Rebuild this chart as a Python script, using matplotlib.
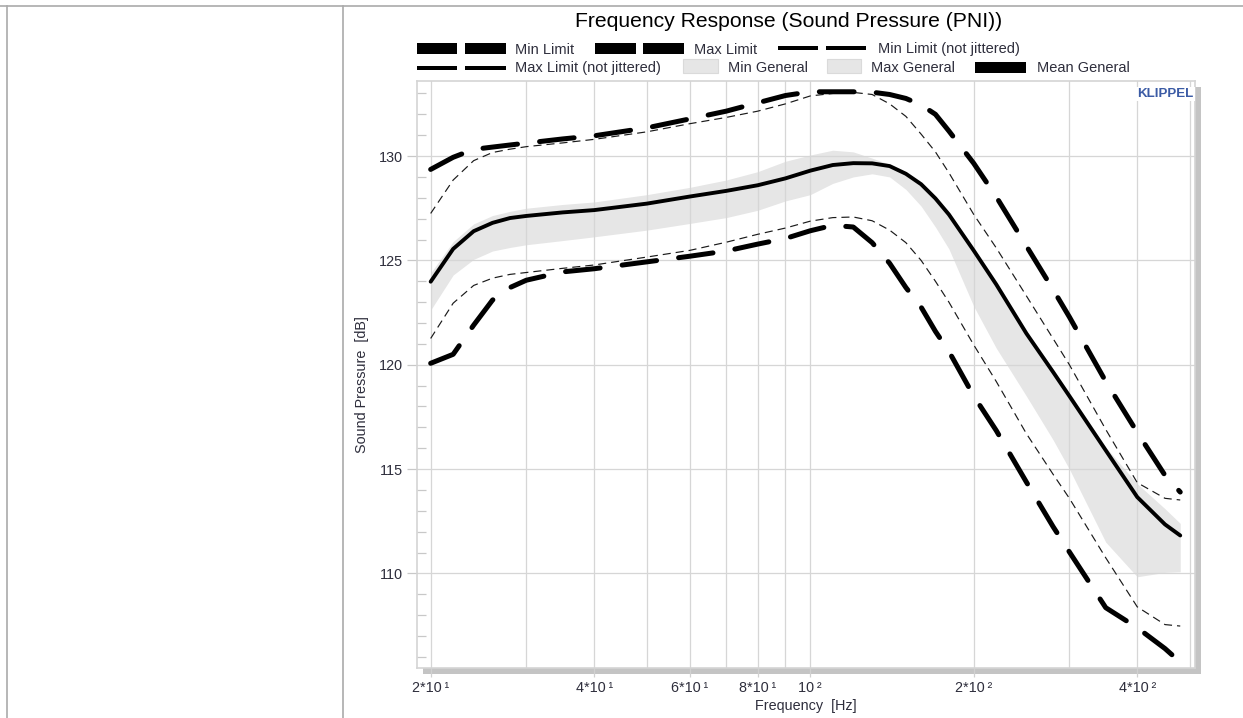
import matplotlib
matplotlib.use('Agg')
import matplotlib.pyplot as plt
from matplotlib.patches import Rectangle
from matplotlib.ticker import MultipleLocator, FixedLocator, NullFormatter

plt.rcParams['font.family'] = ['Liberation Sans', 'DejaVu Sans']
plt.rcParams['lines.scale_dashes'] = False

# frequency grid (Hz) and curves (dB)
freq = [20, 22, 24, 26, 28, 30, 35, 40, 50, 60, 70, 80, 90, 100, 110, 120, 130,
        140, 150, 160, 170, 180, 200, 220, 250, 280, 300, 350, 400, 450, 480]

max_limit = [129.36, 129.94, 130.32, 130.43, 130.53, 130.62, 130.82, 130.97, 131.35,
             131.78, 132.15, 132.55, 132.9, 133.08, 133.08, 133.08, 133.06, 132.95,
             132.76, 132.45, 132.0, 131.2, 129.65, 128.05, 125.69, 123.6, 122.29,
             119.2, 116.76, 114.7, 113.9]
min_limit = [120.07, 120.5, 121.9, 123.1, 123.7, 124.05, 124.45, 124.6, 124.93,
             125.2, 125.45, 125.78, 126.05, 126.42, 126.68, 126.6, 125.85, 124.86,
             123.7, 122.76, 121.6, 120.64, 118.5, 116.85, 114.38, 112.24, 111.03,
             108.36, 107.4, 106.4, 105.75]
max_nj = [127.25, 128.85, 129.78, 130.17, 130.33, 130.45, 130.63, 130.8, 131.16,
          131.55, 131.85, 132.15, 132.5, 132.88, 133.0, 133.05, 132.95, 132.5,
          131.9, 131.05, 130.2, 129.2, 127.2, 125.6, 123.3, 121.25, 120.0, 116.9,
          114.35, 113.6, 113.52]
min_nj = [121.26, 122.95, 123.8, 124.15, 124.33, 124.42, 124.62, 124.78, 125.16,
          125.48, 125.87, 126.25, 126.55, 126.88, 127.05, 127.08, 126.9, 126.45,
          125.85, 125.0, 124.0, 123.0, 120.95, 119.2, 116.7, 114.75, 113.6, 110.75,
          108.4, 107.55, 107.48]
mean_general = [123.98, 125.55, 126.4, 126.8, 127.03, 127.13, 127.3, 127.41, 127.72,
                128.06, 128.33, 128.6, 128.93, 129.3, 129.57, 129.66, 129.65, 129.52,
                129.15, 128.65, 127.97, 127.2, 125.47, 123.85, 121.5, 119.65, 118.5,
                115.9, 113.66, 112.35, 111.82]
max_general = [124.4, 125.9, 126.75, 127.15, 127.35, 127.5, 127.68, 127.8, 128.15,
               128.5, 128.85, 129.25, 129.75, 130.05, 130.28, 130.2, 129.9, 129.6,
               129.25, 128.75, 128.05, 127.3, 125.6, 124.0, 121.65, 119.8, 118.65,
               116.05, 114.3, 113.1, 112.4]
min_general = [122.62, 124.3, 125.05, 125.45, 125.62, 125.75, 125.95, 126.13, 126.45,
               126.77, 127.05, 127.4, 127.85, 128.15, 128.69, 129.0, 129.15, 129.0,
               128.4, 127.6, 126.6, 125.55, 122.8, 120.8, 118.5, 116.4, 115.0, 111.5,
               109.84, 110.05, 110.08]

tick_freqs = [20, 40, 60, 80, 100, 200, 400]
tick_labels = ['2*10\u2009¹', '4*10\u2009¹', '6*10\u2009¹', '8*10\u2009¹',
               '10\u2009²', '2*10\u2009²', '4*10\u2009²']
grid_freqs = [30, 50, 70, 90, 300, 500]
y_ticks = [110, 115, 120, 125, 130]

W, H = 1243, 718
fig = plt.figure(figsize=(W / 100, H / 100), dpi=100)


def fx(px):
    return px / W


def fy(py):
    return 1 - py / H


text_col = '#2e2e3c'

# page borders
fig.add_artist(plt.Line2D([0, 1], [fy(5.5), fy(5.5)], color='#aaaaaa', lw=1.2))
fig.add_artist(plt.Line2D([fx(6.5), fx(6.5)], [0, fy(5.5)], color='#aaaaaa', lw=1.2))
fig.add_artist(plt.Line2D([fx(342.5), fx(342.5)], [0, fy(5.5)], color='#aaaaaa', lw=1.2))

L, R, T, B = 416.7, 1195, 80.5, 668
# drop shadow
fig.add_artist(Rectangle((fx(L + 6), fy(B + 6)), (R - L) / W, (B - T) / H,
                         transform=fig.transFigure, facecolor='#c4c4c4',
                         edgecolor='none', zorder=-1))

ax = fig.add_axes([fx(L), fy(B), (R - L) / W, (B - T) / H])
ax.set_facecolor('white')
ax.set_xscale('log')

ax.fill_between(freq, min_general, max_general, color='#e6e6e6', lw=0, zorder=0.4)
ax.plot(freq, max_nj, color='#1a1a1a', lw=0.85, dashes=(5.8, 3.6))
ax.plot(freq, min_nj, color='#1a1a1a', lw=0.85, dashes=(5.8, 3.6))
ax.plot(freq, mean_general, color='black', lw=2.8, solid_capstyle='round',
        solid_joinstyle='round')
ax.plot(freq, max_limit, color='black', lw=3.6, dashes=(25, 16),
        dash_capstyle='round', dash_joinstyle='round')
ax.plot(freq, min_limit, color='black', lw=3.6, dashes=(25, 16),
        dash_capstyle='round', dash_joinstyle='round')

ax.set_xlim(18.85, 511)
ax.set_ylim(105.47, 133.62)

ax.xaxis.set_major_locator(FixedLocator(tick_freqs))
ax.set_xticklabels(tick_labels)
ax.xaxis.set_minor_locator(FixedLocator(grid_freqs))
ax.xaxis.set_minor_formatter(NullFormatter())
ax.yaxis.set_major_locator(FixedLocator(y_ticks))
ax.yaxis.set_minor_locator(MultipleLocator(1))

ax.grid(True, which='major', color='#d6d6d6', lw=0.9)
ax.grid(True, which='minor', axis='x', color='#d6d6d6', lw=0.9)
ax.set_axisbelow(True)

ax.tick_params(axis='y', which='major', direction='out', length=7.2, width=0.9,
               color='#c8c8c8', pad=2.9, labelsize=10.4, labelcolor=text_col)
ax.tick_params(axis='y', which='minor', direction='in', length=6.5, width=0.9,
               color='#c8c8c8')
ax.tick_params(axis='x', which='major', direction='out', length=6.5, width=0.9,
               color='#d0d0d0', pad=2.5, labelsize=10.4, labelcolor=text_col)
ax.tick_params(axis='x', which='minor', length=0)
for s in ax.spines.values():
    s.set_color('#d4d4d4')
    s.set_linewidth(1.2)

ax.text(0.9985, 0.987, 'KLIPPEL', transform=ax.transAxes, ha='right', va='top',
        fontsize=9.6, fontweight='bold', color='#3b5ba5',
        bbox=dict(facecolor='white', edgecolor='none', pad=1))

# axis labels and title
fig.text(fx(362), fy(385), 'Sound Pressure  [dB]', rotation=90, ha='center',
         va='center', fontsize=10.4, color=text_col)
fig.text(fx(806), fy(706), 'Frequency  [Hz]', ha='center', va='center',
         fontsize=10.4, color=text_col)
fig.text(fx(789), fy(26.7), 'Frequency Response (Sound Pressure (PNI))',
         ha='center', va='baseline', fontsize=15.2, color='black')


# legend
def box(x0, x1, y0, y1, fc, ec='none'):
    fig.add_artist(Rectangle((fx(x0), fy(y1)), (x1 - x0) / W, (y1 - y0) / H,
                             transform=fig.transFigure, facecolor=fc,
                             edgecolor=ec, lw=0.8))


def leg_text(x, y, s):
    fig.text(fx(x), fy(y), s, ha='left', va='baseline', fontsize=10.5,
             color=text_col)


for x0, x1 in [(417, 457), (464.5, 505.7)]:
    box(x0, x1, 42.7, 54, 'black')
leg_text(515, 53.5, 'Min Limit')
for x0, x1 in [(595, 636), (643, 683.6)]:
    box(x0, x1, 42.7, 54, 'black')
leg_text(694, 53.5, 'Max Limit')
for x0, x1 in [(778, 818), (825.6, 866)]:
    box(x0, x1, 46, 49.5, 'black')
leg_text(877.5, 53.5, 'Min Limit (not jittered)')

for x0, x1 in [(417, 457), (464.5, 505.7)]:
    box(x0, x1, 66, 69.5, 'black')
leg_text(515, 72, 'Max Limit (not jittered)')
box(682.6, 717.5, 59, 73.3, '#e6e6e6', '#dadada')
leg_text(728, 72, 'Min General')
box(826.6, 860.5, 59, 73.3, '#e6e6e6', '#dadada')
leg_text(871, 72, 'Max General')
box(975, 1026, 61.7, 72.7, 'black')
leg_text(1037, 72, 'Mean General')

fig.savefig('out.png', dpi=100)
